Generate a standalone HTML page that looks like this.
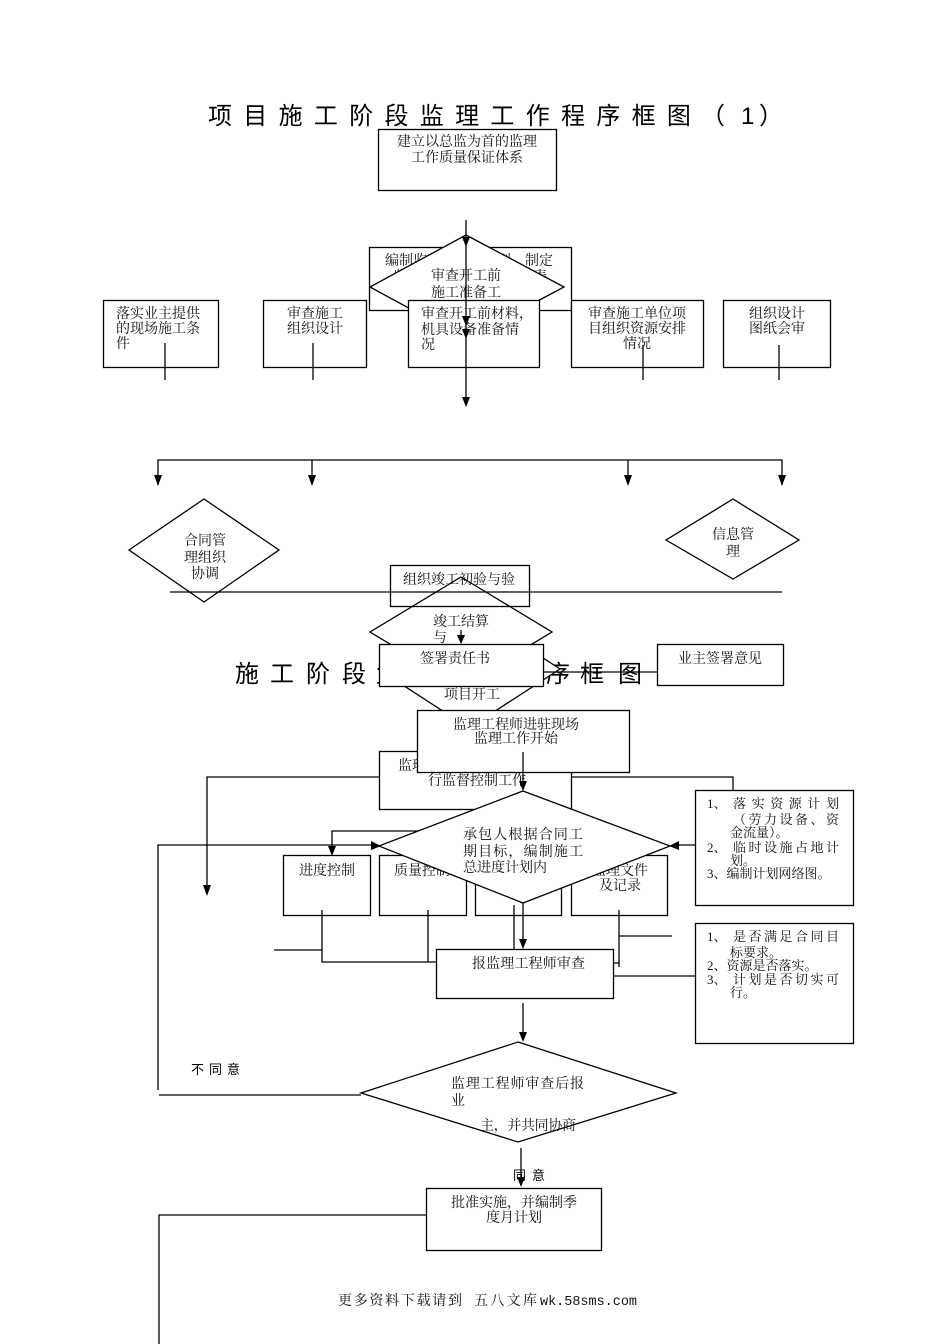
<!DOCTYPE html>
<html><head><meta charset="utf-8">
<style>
html,body{margin:0;padding:0;background:#fff;}
svg{display:block;}
.s{font-family:"Liberation Serif","Noto Serif CJK SC",serif;font-size:14px;fill:#111;}
.s13{font-family:"Liberation Serif","Noto Serif CJK SC",serif;font-size:13px;fill:#111;}
.h{font-family:"Liberation Sans","Noto Sans CJK SC",sans-serif;font-size:24px;fill:#000;}
.g{font-family:"Liberation Sans","Noto Sans CJK SC",sans-serif;font-size:13px;fill:#000;}
.m{font-family:"Liberation Mono",monospace;font-size:14px;fill:#111;}
</style></head>
<body>
<svg width="950" height="1344" viewBox="0 0 950 1344" xmlns="http://www.w3.org/2000/svg">

<!-- Title 1 -->
<text class="h" y="124" x="208 243.3 278.6 313.9 349.2 384.5 419.8 455.1 490.4 525.7 561 596.3 631.6 666.9">项目施工阶段监理工作程序框图</text>
<text class="h" y="124" x="701">（</text>
<text class="h" y="124" x="741">1</text>
<text class="h" y="124" x="759">）</text>

<!-- Box A -->
<rect x="378.5" y="129.5" width="178" height="61" fill="#fff" stroke="#000" stroke-width="1.3"/>
<text class="s" x="467" y="146" text-anchor="middle">建立以总监为首的监理</text>
<text class="s" x="467" y="162" text-anchor="middle">工作质量保证体系</text>

<!-- Rect B -->
<rect x="369.5" y="247.5" width="202" height="63" fill="#fff" stroke="#000" stroke-width="1.3"/>
<text class="s" x="385" y="265">编制监理规划、细则，制定</text>
<text class="s" x="393" y="281">监理工作程序及有关报表</text>
<!-- diamond top -->
<polygon points="466,235 564,287 466,339 370,287" fill="#fff" stroke="#000" stroke-width="1.3"/>
<text class="s" x="466" y="280" text-anchor="middle">审查开工前</text>
<text class="s" x="466" y="297" text-anchor="middle">施工准备工</text>
<!-- Rect C -->
<rect x="408.5" y="300.5" width="131" height="67" fill="#fff" stroke="#000" stroke-width="1.3"/>
<text class="s" x="421" y="318">审查开工前材料，</text>
<text class="s" x="421" y="334">机具设备准备情</text>
<text class="s" x="421" y="349">况</text>

<!-- Row boxes -->
<rect x="103.5" y="300.5" width="115" height="67" fill="#fff" stroke="#000" stroke-width="1.3"/>
<text class="s" x="116" y="318">落实业主提供</text>
<text class="s" x="116" y="333">的现场施工条</text>
<text class="s" x="116" y="348">件</text>
<rect x="263.5" y="300.5" width="103" height="67" fill="#fff" stroke="#000" stroke-width="1.3"/>
<text class="s" x="315" y="318" text-anchor="middle">审查施工</text>
<text class="s" x="315" y="333" text-anchor="middle">组织设计</text>
<rect x="571.5" y="300.5" width="132" height="67" fill="#fff" stroke="#000" stroke-width="1.3"/>
<text class="s" x="637" y="318" text-anchor="middle">审查施工单位项</text>
<text class="s" x="637" y="333" text-anchor="middle">目组织资源安排</text>
<text class="s" x="637" y="348" text-anchor="middle">情况</text>
<rect x="723.5" y="300.5" width="107" height="67" fill="#fff" stroke="#000" stroke-width="1.3"/>
<text class="s" x="777" y="318" text-anchor="middle">组织设计</text>
<text class="s" x="777" y="333" text-anchor="middle">图纸会审</text>

<g stroke="#000" stroke-width="1.3" fill="none">
<line x1="466" y1="220" x2="466" y2="400"/>
<line x1="165" y1="343" x2="165" y2="380"/>
<line x1="313" y1="343" x2="313" y2="380"/>
<line x1="643" y1="345" x2="643" y2="380"/>
<line x1="779" y1="345" x2="779" y2="380"/>
<polyline points="158,485 158,460 782,460 782,485"/>
<line x1="312" y1="460" x2="312" y2="480"/>
<line x1="628" y1="460" x2="628" y2="480"/>
</g>
<g fill="#000">
<polygon points="462,237 470,237 466,247"/>
<polygon points="462,316 470,316 466,326"/>
<polygon points="462,329 470,329 466,339"/>
<polygon points="462,397 470,397 466,407"/>
<polygon points="154,475 162,475 158,486"/>
<polygon points="308,475 316,475 312,486"/>
<polygon points="624,475 632,475 628,486"/>
<polygon points="778,475 786,475 782,486"/>
</g>

<!-- side diamonds -->
<polygon points="204,499 279,550 204,602 129,550" fill="none" stroke="#000" stroke-width="1.3"/>
<text class="s" x="205" y="545" text-anchor="middle">合同管</text>
<text class="s" x="205" y="562" text-anchor="middle">理组织</text>
<text class="s" x="205" y="578" text-anchor="middle">协调</text>
<polygon points="733,499 799,540 733,579 666,540" fill="none" stroke="#000" stroke-width="1.3"/>
<text class="s" x="733" y="539" text-anchor="middle">信息管</text>
<text class="s" x="733" y="556" text-anchor="middle">理</text>

<!-- Title 2 -->
<text class="h" y="682" x="235 270 306 342 376 410 444 478 512 546 580 618">施工阶段监理工作程序框图</text>

<!-- 项目开工 diamond -->
<polygon points="469,610 560,669 469,728 378,669" fill="#fff" stroke="#000" stroke-width="1.3"/>
<text class="s" x="472" y="699" text-anchor="middle">项目开工</text>
<!-- 竣工 diamond -->
<polygon points="461,577 552,632 461,687 370,632" fill="#fff" stroke="#000" stroke-width="1.3"/>
<text class="s" x="433" y="626">竣工结算</text>
<text class="s" x="433" y="642">与</text>
<!-- 组织竣工 rect -->
<rect x="390.5" y="565.5" width="139" height="41" fill="none" stroke="#000" stroke-width="1.3"/>
<text class="s" x="403" y="584">组织竣工初验与验</text>
<line x1="170" y1="592" x2="782" y2="592" stroke="#000" stroke-width="1.3"/>
<line x1="461" y1="630" x2="461" y2="636" stroke="#000" stroke-width="1.3"/>
<polygon points="457,635 465,635 461,644" fill="#000"/>
<!-- 签署 -->
<rect x="379.5" y="644.5" width="164" height="42" fill="#fff" stroke="#000" stroke-width="1.3"/>
<text class="s" x="455" y="663" text-anchor="middle">签署责任书</text>
<line x1="543" y1="672" x2="657" y2="672" stroke="#000" stroke-width="1.3"/>
<rect x="657.5" y="644.5" width="126" height="41" fill="#fff" stroke="#000" stroke-width="1.3"/>
<text class="s" x="720" y="663" text-anchor="middle">业主签署意见</text>

<!-- back rect -->
<rect x="379.5" y="751.5" width="192" height="58" fill="#fff" stroke="#000" stroke-width="1.3"/>
<text class="s" x="475" y="770" text-anchor="middle">监理工程师按合同要求进</text>
<text class="s" x="477" y="785" text-anchor="middle">行监督控制工作</text>
<!-- front rect -->
<rect x="417.5" y="710.5" width="212" height="62" fill="#fff" stroke="#000" stroke-width="1.3"/>
<text class="s" x="516" y="729" text-anchor="middle">监理工程师进驻现场</text>
<text class="s" x="516" y="743" text-anchor="middle">监理工作开始</text>

<g stroke="#000" stroke-width="1.3" fill="none">
<line x1="523" y1="752" x2="523" y2="784"/>
<polyline points="207,890 207,777 379,777"/>
<polyline points="571,777 733,777 733,790"/>
<polyline points="332,848 332,831 475,831 475,809"/>
<polyline points="371,845 158,845 158,1090"/>
<line x1="678" y1="845" x2="695" y2="845"/>
</g>
<g fill="#000">
<polygon points="519,781 527,781 523,791"/>
<polygon points="203,885 211,885 207,896"/>
<polygon points="328,846 336,846 332,856"/>
</g>

<!-- row 2 boxes -->
<rect x="283.5" y="855.5" width="87" height="60" fill="#fff" stroke="#000" stroke-width="1.3"/>
<text class="s" x="327" y="875" text-anchor="middle">进度控制</text>
<rect x="379.5" y="855.5" width="87" height="60" fill="#fff" stroke="#000" stroke-width="1.3"/>
<text class="s" x="422" y="875" text-anchor="middle">质量控制</text>
<rect x="475.5" y="855.5" width="86" height="60" fill="#fff" stroke="#000" stroke-width="1.3"/>
<text class="s" x="518" y="875" text-anchor="middle">投资控制</text>
<rect x="571.5" y="855.5" width="96" height="60" fill="#fff" stroke="#000" stroke-width="1.3"/>
<text class="s" x="620" y="875" text-anchor="middle">监理文件</text>
<text class="s" x="620" y="890" text-anchor="middle">及记录</text>

<!-- 承包人 diamond -->
<polygon points="523,791 670,846 523,903 379,846" fill="#fff" stroke="#000" stroke-width="1.3"/>
<text class="s" x="463" y="839" textLength="120" lengthAdjust="spacing">承包人根据合同工</text>
<text class="s" x="463" y="856" textLength="120" lengthAdjust="spacing">期目标，编制施工</text>
<text class="s" x="463" y="872">总进度计划内</text>
<g fill="#000">
<polygon points="371,841 371,850 381,846"/>
<polygon points="679,841 679,850 669,846"/>
</g>

<!-- right boxes -->
<rect x="695.5" y="790.5" width="158" height="115" fill="#fff" stroke="#000" stroke-width="1.3"/>
<text class="s13" x="707" y="808">1、</text>
<text class="s13" x="733" y="808" textLength="106" lengthAdjust="spacing">落实资源计划</text>
<text class="s13" x="733" y="824" textLength="106" lengthAdjust="spacing">（劳力设备、资</text>
<text class="s13" x="730" y="837">金流量）。</text>
<text class="s13" x="707" y="852">2、</text>
<text class="s13" x="733" y="852" textLength="106" lengthAdjust="spacing">临时设施占地计</text>
<text class="s13" x="730" y="865">划。</text>
<text class="s13" x="707" y="878">3、编制计划网络图。</text>

<rect x="695.5" y="923.5" width="158" height="120" fill="#fff" stroke="#000" stroke-width="1.3"/>
<text class="s13" x="707" y="941">1、</text>
<text class="s13" x="733" y="941" textLength="106" lengthAdjust="spacing">是否满足合同目</text>
<text class="s13" x="730" y="957">标要求。</text>
<text class="s13" x="707" y="970">2、资源是否落实。</text>
<text class="s13" x="707" y="984">3、</text>
<text class="s13" x="733" y="984" textLength="106" lengthAdjust="spacing">计划是否切实可</text>
<text class="s13" x="730" y="997">行。</text>

<!-- connectors under row 2 -->
<g stroke="#000" stroke-width="1.3" fill="none">
<polyline points="322,910 322,962 436,962"/>
<line x1="428" y1="910" x2="428" y2="962"/>
<line x1="274" y1="950" x2="322" y2="950"/>
<line x1="514" y1="905" x2="514" y2="949"/>
<line x1="523" y1="903" x2="523" y2="940"/>
<line x1="619" y1="910" x2="619" y2="967"/>
<line x1="612" y1="963" x2="619" y2="963"/>
<line x1="619" y1="936" x2="672" y2="936"/>
<line x1="610" y1="976" x2="695" y2="976"/>
<line x1="523" y1="1003" x2="523" y2="1034"/>
<line x1="159" y1="1095" x2="361" y2="1095"/>
<line x1="521" y1="1148" x2="521" y2="1180"/>
<polyline points="426,1215 159,1215 159,1344"/>
</g>
<g fill="#000">
<polygon points="519,939 527,939 523,949"/>
<polygon points="519,1032 527,1032 523,1042"/>
<polygon points="517,1177 525,1177 521,1187"/>
</g>

<!-- 报监理 -->
<rect x="436.5" y="949.5" width="177" height="49" fill="#fff" stroke="#000" stroke-width="1.3"/>
<text class="s" x="472" y="968" textLength="113" lengthAdjust="spacing">报监理工程师审查</text>

<!-- review diamond -->
<polygon points="518,1042 676,1093 518,1142 361,1093" fill="none" stroke="#000" stroke-width="1.3"/>
<text class="s" x="451" y="1088" textLength="133" lengthAdjust="spacing">监理工程师审查后报</text>
<text class="s" x="451" y="1105">业</text>
<text class="s" x="480" y="1130" textLength="96" lengthAdjust="spacing">主，并共同协商</text>

<text class="g" x="191" y="1074" textLength="49" lengthAdjust="spacing">不同意</text>
<text class="g" x="513" y="1180" textLength="32" lengthAdjust="spacing">同意</text>

<!-- 批准实施 -->
<rect x="426.5" y="1188.5" width="175" height="62" fill="#fff" stroke="#000" stroke-width="1.3"/>
<text class="s" x="514" y="1207" text-anchor="middle">批准实施，并编制季</text>
<text class="s" x="514" y="1222" text-anchor="middle">度月计划</text>

<!-- footer -->
<text class="s" x="338" y="1305" font-size="15" textLength="124" lengthAdjust="spacing">更多资料下载请到</text>
<text class="s" x="474" y="1305" font-size="15" textLength="63" lengthAdjust="spacing">五八文库</text>
<text class="m" x="540" y="1305" textLength="97" lengthAdjust="spacingAndGlyphs">wk.58sms.com</text>
</svg>
</body></html>
